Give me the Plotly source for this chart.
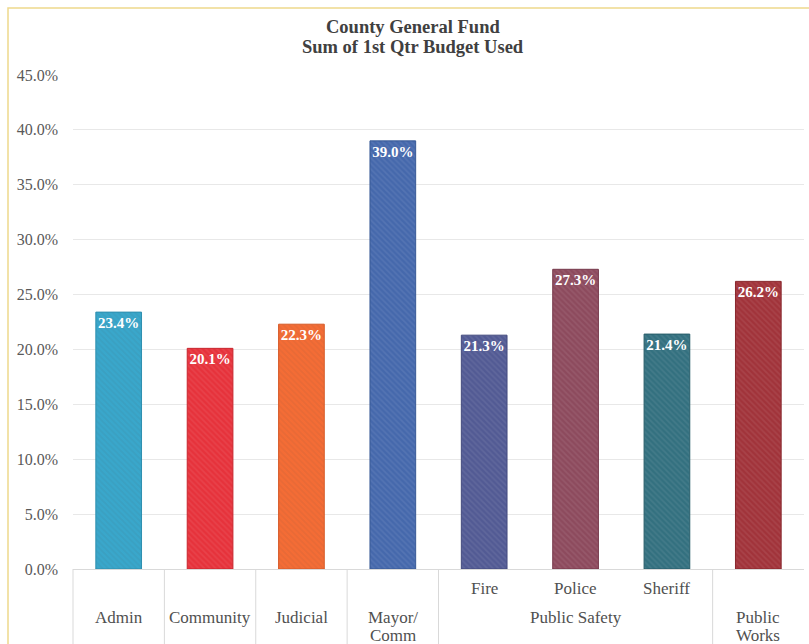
import plotly.graph_objects as go

categories = ["Admin", "Community", "Judicial", "Mayor/ Comm", "Fire", "Police", "Sheriff", "Public Works"]
values = [0.234, 0.201, 0.223, 0.390, 0.213, 0.273, 0.214, 0.262]
value_labels = ["23.4%", "20.1%", "22.3%", "39.0%", "21.3%", "27.3%", "21.4%", "26.2%"]
colors = ["#39A7CB", "#E6323B", "#F46C35", "#4568AC", "#525A94", "#8D4A5D", "#33707F", "#A1333A"]
edge_colors = ["#2E8FAF", "#C8262E", "#D65A28", "#385A96", "#444B7E", "#76394B", "#285D6A", "#88272D"]

# axis labels: inner row (sub-categories) and outer row (groups, one line per entry)
inner_labels = {4: "Fire", 5: "Police", 6: "Sheriff"}
outer_labels = [(0, ["Admin"]), (1, ["Community"]), (2, ["Judicial"]), (3, ["Mayor/", "Comm"]),
                (5, ["Public Safety"]), (7, ["Public", "Works"])]
group_bounds = [0, 1, 2, 3, 4, 7]  # separators before these category indices
title_lines = ["County General Fund", "Sum of 1st Qtr Budget Used"]
n_cat = len(categories)

serif = "'Liberation Serif', 'Times New Roman', serif"

fig = go.Figure()
fig.add_trace(go.Bar(
    x=categories, y=values,
    marker=dict(color=colors,
                line=dict(color=edge_colors, width=1),
                pattern=dict(shape="\\", fgcolor="#FFFFFF", fgopacity=0.08, size=4, solidity=0.4)),
    text=value_labels, textposition="inside", insidetextanchor="end", textangle=0,
    constraintext="none",
    textfont=dict(family=serif, size=15, color="white", weight="bold"),
    width=0.5, showlegend=False, hoverinfo="skip",
))

W, H = 809, 644
ml, mr, mt, mb = 73, 5, 75, 75
pw = W - ml - mr
ph = H - mt - mb
y0px = H - mb  # pixel row of the x axis


def py(pixel_y):
    """convert a pixel row (from top) to paper y"""
    return (y0px - pixel_y) / ph


fig.update_layout(
    width=W, height=H,
    margin=dict(l=ml, r=mr, t=mt, b=mb),
    paper_bgcolor="white", plot_bgcolor="white",
    xaxis=dict(range=[-0.5, n_cat - 0.5], showticklabels=False, ticks="",
               showgrid=False, showline=True, linecolor="#D9D9D9", linewidth=1, zeroline=False),
    yaxis=dict(range=[0, 0.45], dtick=0.05, tickformat=".1%", showgrid=True,
               gridcolor="#E8E8E8", gridwidth=1, zeroline=False, showline=False,
               tickfont=dict(family=serif, size=16, color="#595959"), ticks="",
               ticklabelstandoff=14),
)

# title lines
for txt, ypix in zip(title_lines, [27, 47]):
    fig.add_annotation(text="<b>" + txt + "</b>", xref="paper", yref="paper",
                       x=(413 - ml) / pw, y=py(ypix), showarrow=False,
                       xanchor="center", yanchor="middle",
                       font=dict(family=serif, size=18.5, color="#404040"))

# category separators below axis
for k in group_bounds:
    xp = k / n_cat
    fig.add_shape(type="line", xref="paper", yref="paper", x0=xp, x1=xp,
                  y0=0, y1=-0.2, line=dict(color="#D9D9D9", width=1))

lab_font = dict(family=serif, size=17, color="#505050")
for i, t in inner_labels.items():
    fig.add_annotation(x=categories[i], xref="x", yref="paper", y=py(588), text=t,
                       showarrow=False, yanchor="middle", font=lab_font)
for i, lines in outer_labels:
    for j, t in enumerate(lines):
        fig.add_annotation(x=categories[i], xref="x", yref="paper", y=py(617 + 18 * j), text=t,
                           showarrow=False, yanchor="middle", font=lab_font)

# outer chart border (yellow)
fig.add_shape(type="rect", xref="paper", yref="paper",
              x0=(8 - ml) / pw, x1=(W + 20 - ml) / pw,
              y0=-(H - ml) / ph, y1=py(8),
              line=dict(color="#EED98C", width=1.5), fillcolor="rgba(0,0,0,0)", layer="below")

fig.write_html("out.html")
